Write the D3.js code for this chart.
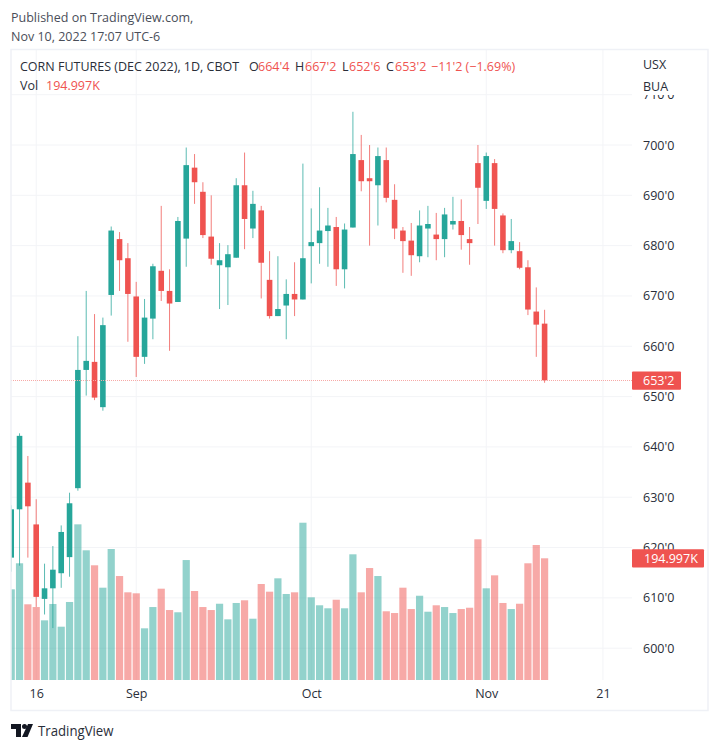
<!DOCTYPE html>
<html>
<head>
<meta charset="utf-8">
<script src="https://cdn.jsdelivr.net/npm/d3@7"></script>
<style>
	html, body { margin: 0; padding: 0; background: #fff; }
	svg { display: block; font-family: "Open Sans", sans-serif; }
	.axis path, .axis line { display: none; }
	.axis text { fill: #2a2e39; font-family: "Open Sans", sans-serif; font-size: 12.5px; }
</style>
</head>
<body>
<div id="chart"></div>
<script>
/* CORN daily candles, one entry per trading day from Aug 11 to Nov 10 2022 */
var opens = [618.0,627.6,632.9,624.6,609.8,611.9,614.9,618.1,631.8,655.3,656.9,647.9,670.2,681.3,677.5,669.9,657.9,665.5,675.0,671.0,668.8,681.4,695.5,690.7,681.8,676.1,675.7,677.6,692.0,683.4,687.0,673.2,666.0,668.1,670.4,669.3,679.9,680.5,682.9,683.7,675.3,683.6,697.0,693.4,692.0,697.0,689.1,683.0,681.0,677.9,683.4,682.2,681.3,684.2,684.9,681.3,696.4,688.9,696.4,686.0,679.1,678.9,675.7,666.9,664.5];
var highs = [628.4,642.7,638.2,629.6,616.8,620.3,624.4,630.9,662.0,671.0,666.4,665.7,683.8,682.7,680.5,672.8,669.4,676.4,687.9,675.3,685.7,699.5,698.2,692.6,690.0,680.5,680.1,693.4,698.5,690.9,687.9,678.9,677.9,673.3,676.7,696.3,687.4,691.6,687.5,685.7,684.4,706.6,702.0,700.0,699.5,699.5,692.2,683.7,684.5,687.0,687.9,686.5,687.5,689.7,689.2,683.7,700.0,698.5,697.2,686.4,685.3,680.7,677.1,671.7,667.25];
var lows = [615.2,616.4,618.0,608.2,606.7,604.0,612.0,614.2,631.3,650.2,649.3,647.2,666.1,671.0,660.9,653.9,656.5,661.4,669.0,659.1,668.8,675.8,688.3,681.5,676.2,667.4,668.2,677.6,679.3,681.5,669.5,665.5,666.0,661.4,666.0,669.3,672.5,676.4,675.8,672.0,671.5,683.6,690.8,680.0,684.0,688.6,681.3,674.6,674.0,676.7,677.7,677.1,677.7,683.2,679.2,676.2,684.3,687.3,680.0,678.5,678.5,675.3,666.2,657.9,652.75];
var closes = [627.6,642.2,628.2,610.2,611.9,615.6,623.1,628.8,655.3,657.1,649.8,664.2,683.0,677.1,670.4,657.9,665.7,675.9,671.0,668.5,684.9,696.0,692.6,682.1,677.4,677.1,678.3,692.0,685.3,688.3,676.6,666.0,667.4,670.4,669.3,677.5,680.7,683.0,684.0,675.3,683.2,698.2,692.8,692.8,697.8,689.5,683.4,680.9,678.1,684.0,684.3,681.3,686.2,684.9,682.1,680.5,691.5,697.8,687.3,679.1,680.9,675.6,667.3,664.3,653.25];
var volumes = [145.3,187.0,121.3,116.9,95.6,121.8,85.4,125.0,249.4,207.8,183.8,147.9,209.9,166.6,140.5,138.9,82.8,116.9,146.3,112.1,108.5,192.2,142.6,116.9,112.1,122.2,97.2,123.4,127.7,98.2,153.8,141.5,162.9,137.8,140.5,252.0,132.5,119.7,114.9,128.6,114.9,201.4,140.5,179.4,166.6,110.1,107.3,147.9,113.7,135.0,109.4,119.7,116.9,107.3,113.7,115.8,225.4,146.9,167.7,123.4,113.7,122.2,187.0,216.3,195.0];

var priceTicks = [600,610,620,630,640,650,660,670,680,690,700,710];
var dateTickIndex = [3,15,36,57,71];
var dateTickLabels = ["16","Sep","Oct","Nov","21"];
var lastPrice = 653.25;
var lastVolume = 194.997;

var upColor = "#26a69a", downColor = "#ef5350", gridColor = "#f3f4f7", textColor = "#2a2e39";

var width = 720, height = 749;
var left = 11, right = 632, plotBottom = 680;

var svg = d3.select("#chart").append("svg").attr("width", width).attr("height", height);

var x = d3.scaleLinear().domain([0, 64]).range([11.2, 544.6]);
var y = d3.scaleLinear().domain([600, 700]).range([648.2, 145]);
var yVol = d3.scaleLinear().domain([0, 194.997]).range([plotBottom, 558.3]);

var color = function(i){ return closes[i] >= opens[i] ? upColor : downColor; };
var days = d3.range(opens.length);

/* grid */
svg.append("g").selectAll("line").data(priceTicks).enter().append("line")
	.attr("x1", left).attr("x2", right)
	.attr("y1", function(d){ return y(d); }).attr("y2", function(d){ return y(d); })
	.attr("stroke", gridColor).attr("stroke-width", 1);
svg.append("g").selectAll("line").data(dateTickIndex).enter().append("line")
	.attr("x1", function(d){ return x(d); }).attr("x2", function(d){ return x(d); })
	.attr("y1", 50).attr("y2", plotBottom)
	.attr("stroke", gridColor).attr("stroke-width", 1);

var plot = svg.append("g");
plot.append("clipPath").attr("id", "plot-clip").append("rect")
	.attr("x", left).attr("y", 50).attr("width", right - left).attr("height", plotBottom - 50);
plot.attr("clip-path", "url(#plot-clip)");

/* volume sits behind the candles */
plot.append("g").selectAll("rect").data(days).enter().append("rect")
	.attr("x", function(i){ return x(i) - 3.6; })
	.attr("width", 7.2)
	.attr("y", function(i){ return yVol(volumes[i]); })
	.attr("height", function(i){ return plotBottom - yVol(volumes[i]); })
	.attr("fill", color).attr("opacity", 0.5);

plot.append("g").selectAll("line").data(days).enter().append("line")
	.attr("x1", function(i){ return x(i); }).attr("x2", function(i){ return x(i); })
	.attr("y1", function(i){ return y(highs[i]); })
	.attr("y2", function(i){ return y(lows[i]); })
	.attr("stroke", color).attr("stroke-width", 1).attr("opacity", 0.75);

plot.append("g").selectAll("rect").data(days).enter().append("rect")
	.attr("x", function(i){ return x(i) - 2.8; })
	.attr("width", 5.6)
	.attr("y", function(i){ return y(Math.max(opens[i], closes[i])); })
	.attr("height", function(i){ return Math.max(1, Math.abs(y(opens[i]) - y(closes[i]))); })
	.attr("fill", color);

/* last price line */
svg.append("line")
	.attr("x1", left).attr("x2", right)
	.attr("y1", Math.round(y(lastPrice)) + 0.5).attr("y2", Math.round(y(lastPrice)) + 0.5)
	.attr("stroke", "#f7a9a7").attr("stroke-width", 1).attr("stroke-dasharray", "1 1");

/* axes */
var priceAxis = d3.axisRight(y).tickValues(priceTicks).tickSize(0).tickPadding(0)
	.tickFormat(function(d){ return d + "'0"; });
svg.append("g").attr("class", "axis").attr("transform", "translate(643,0)").call(priceAxis);

var dateAxis = d3.axisBottom(x).tickValues(dateTickIndex).tickSize(0).tickPadding(0)
	.tickFormat(function(d, i){ return dateTickLabels[i]; });
svg.append("g").attr("class", "axis").attr("transform", "translate(0,689)").call(dateAxis);

/* legend background hides the top of the 710 tick, like the original */
svg.append("rect").attr("x", 640).attr("y", 52).attr("width", 60).attr("height", 43).attr("fill", "#fff");
svg.append("text").attr("x", 643).attr("y", 69).attr("font-size", 12.5).attr("fill", textColor).text("USX");
svg.append("text").attr("x", 643).attr("y", 90.5).attr("font-size", 12.5).attr("fill", textColor).text("BUA");

/* price labels */
svg.append("rect").attr("x", 632).attr("y", y(lastPrice) - 8.7).attr("width", 49).attr("height", 18.3).attr("rx", 1).attr("fill", downColor);
svg.append("text").attr("x", 643).attr("y", y(lastPrice) + 5).attr("font-size", 12.5).attr("font-weight", 500).attr("fill", "#fff").text("653'2");
svg.append("rect").attr("x", 632).attr("y", yVol(lastVolume) - 9).attr("width", 72).attr("height", 18.3).attr("rx", 1).attr("fill", downColor);
svg.append("text").attr("x", 644).attr("y", yVol(lastVolume) + 4.8).attr("font-size", 12.5).attr("font-weight", 500).attr("fill", "#fff").text(lastVolume + "K");

/* frame */
svg.append("rect").attr("x", 11).attr("y", 49.5).attr("width", 697).attr("height", 661)
	.attr("fill", "none").attr("stroke", "#eff1f6").attr("stroke-width", 1.5);

/* header */
svg.append("text").attr("x", 11).attr("y", 21.5).attr("font-size", 12.5).attr("fill", "#4a4e59").text("Published on TradingView.com,");
svg.append("text").attr("x", 11).attr("y", 40.5).attr("font-size", 12.5).attr("fill", "#4a4e59").text("Nov 10, 2022 17:07 UTC-6");

var titleParts = [
	["CORN FUTURES (DEC 2022), 1D, CBOT", textColor, 20],
	["O", textColor, 249], ["664'4", downColor, 258],
	["H", textColor, 295], ["667'2", downColor, 305],
	["L", textColor, 342], ["652'6", downColor, 349],
	["C", textColor, 386], ["653'2", downColor, 395],
	["\u221211'2 (\u22121.69%)", downColor, 431]
];
svg.append("g").selectAll("text").data(titleParts).enter().append("text")
	.attr("x", function(d){ return d[2]; }).attr("y", 71)
	.attr("font-size", 12.5).attr("fill", function(d){ return d[1]; })
	.text(function(d){ return d[0]; });
svg.append("text").attr("x", 20).attr("y", 90).attr("font-size", 12.5).attr("fill", textColor).text("Vol");
svg.append("text").attr("x", 46).attr("y", 90).attr("font-size", 12.5).attr("fill", downColor).text(lastVolume + "K");

/* TradingView logo */
var logo = svg.append("g").attr("transform", "translate(11,724)").attr("fill", "#131722");
logo.append("path").attr("d", "M0 0H10V13H5V5H0Z");
logo.append("circle").attr("cx", 13.5).attr("cy", 2.5).attr("r", 2.5);
logo.append("path").attr("d", "M17 0H22L16.5 13H11Z");
svg.append("text").attr("x", 38).attr("y", 736).attr("font-size", 14.5)
	.attr("textLength", 75.5).attr("lengthAdjust", "spacingAndGlyphs")
	.attr("fill", "#2a2e39").text("TradingView");
</script>
</body>
</html>
